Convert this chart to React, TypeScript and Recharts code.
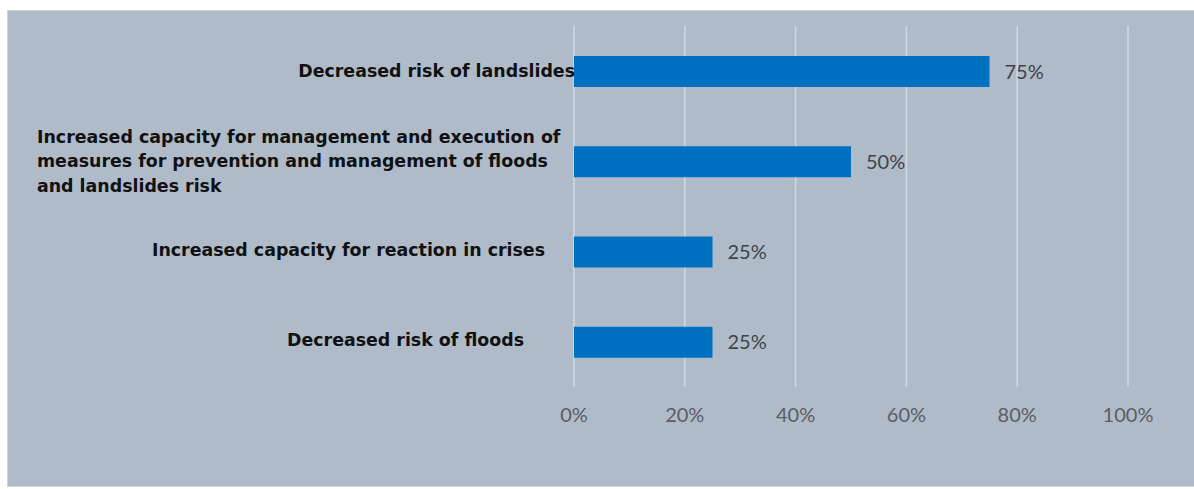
import React from "react"
import { BarChart, Bar, XAxis, YAxis, CartesianGrid, LabelList } from "recharts"

const categories = [
  "Decreased risk of landslides",
  "Increased capacity for management and execution of\nmeasures for prevention and management of floods\nand landslides risk",
  "Increased capacity for reaction in crises",
  "Decreased risk of floods",
]
const shares = [75, 50, 25, 25]
const xTicks = [0, 20, 40, 60, 80, 100]

// where Excel happened to put each category label (x in page px)
const labelLayout = [
  { anchor: "end", x: 575, dy: 0 },
  { anchor: "start", x: 37, dy: 0 },
  { anchor: "end", x: 545, dy: -2 },
  { anchor: "end", x: 524, dy: -2 },
]

const data = categories.map((name, i) => ({ name, value: shares[i] }))

const CategoryTick = (props: any) => {
  const { y, payload, index } = props
  const lay = labelLayout[index] || labelLayout[0]
  const lines = String(payload.value).split("\n")
  const lineH = 24.5
  const startY = y + lay.dy - ((lines.length - 1) * lineH) / 2
  return (
    <text
      x={lay.x}
      y={startY}
      textAnchor={lay.anchor}
      dominantBaseline="central"
      fontFamily="DejaVu Sans"
      fontWeight="bold"
      fontSize={17.4}
      fill="#111"
    >
      {lines.map((l, i) => (
        <tspan key={i} x={lay.x} y={startY + i * lineH}>
          {l}
        </tspan>
      ))}
    </text>
  )
}

export default function App() {
  return (
    <div style={{ position: "absolute", left: 0, top: 0, width: 1194, height: 489, background: "#fff" }}>
      <div
        style={{
          position: "absolute",
          left: 7,
          top: 10,
          width: 1187,
          height: 477,
          boxSizing: "border-box",
          background: "#AFBBC9",
          border: "1px solid #cfd3d8",
          borderRight: "none",
        }}
      />
      <div style={{ position: "absolute", left: 0, top: 0 }}>
        <BarChart
          width={1194}
          height={489}
          data={data}
          layout="vertical"
          margin={{ top: 26, right: 66, left: 14, bottom: 62 }}
        >
          <CartesianGrid horizontal={false} stroke="#d3d8de" strokeWidth={1.5} />
          <XAxis
            type="number"
            domain={[0, 100]}
            ticks={xTicks}
            tickFormatter={(v) => `${v}%`}
            axisLine={false}
            tickLine={false}
            tickMargin={15}
            height={40}
            tick={{ fontFamily: "Lato", fontSize: 20, fill: "#5a5e63" }}
          />
          <YAxis
            type="category"
            dataKey="name"
            width={560}
            axisLine={false}
            tickLine={false}
            tick={<CategoryTick />}
          />
          <Bar dataKey="value" fill="#0070C0" barSize={31} isAnimationActive={false}>
            <LabelList
              dataKey="value"
              position="right"
              offset={15}
              formatter={(v: any) => `${v}%`}
              style={{ fontFamily: "Lato", fontSize: 20, fill: "#404448" }}
            />
          </Bar>
        </BarChart>
      </div>
    </div>
  )
}
